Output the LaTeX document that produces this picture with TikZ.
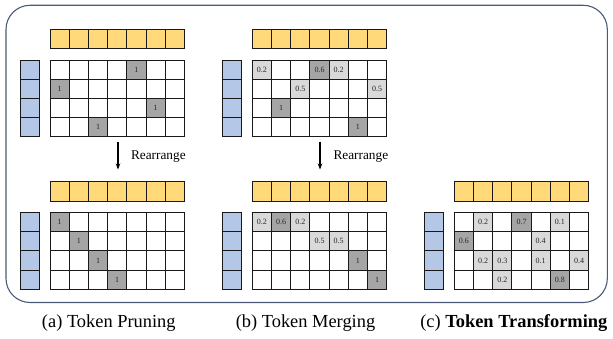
\documentclass[tikz,border=0pt]{standalone}
\usepackage{fontspec}
\setmainfont{Liberation Serif}
\usetikzlibrary{arrows.meta}
\definecolor{tokY}{HTML}{FFD97A}
\definecolor{tokB}{HTML}{B4C7E7}
\definecolor{cellD}{HTML}{A5A5A5}
\definecolor{cellL}{HTML}{D9D9D9}
\definecolor{frameC}{HTML}{4A5A78}
\tikzset{
 cellbox/.style={draw=black!90, line width=0.95pt, minimum width=19.2pt, minimum height=19.2pt, inner sep=0pt, outer sep=0pt, anchor=north west, font=\fontsize{8}{9}\selectfont, text=black!85},
 ybox/.style={cellbox, fill=tokY, minimum height=19.6pt},
 bbox/.style={cellbox, fill=tokB},
 gbox/.style={cellbox, fill=white},
 dbox/.style={cellbox, fill=cellD},
 lbox/.style={cellbox, fill=cellL},
 outerframe/.style={draw=frameC, line width=1.1pt, rounded corners=24pt},
 captext/.style={font=\fontsize{18.4}{20}\selectfont, anchor=base},
 rearr/.style={font=\fontsize{13.3}{15}\selectfont, anchor=base west},
 downarrow/.style={line width=1.2pt, -{Stealth[length=6pt,width=4.5pt]}}
}
\newcommand\tokpanel[3]{%
 \foreach \i in {0,...,6}{\node[ybox] (#1y\i) at (#2+\i*19.2, #3) {};}
 \foreach \j in {0,...,3}{
   \node[bbox] (#1b\j) at (#2-30, #3+30.7+\j*19.2) {};
   \foreach \i in {0,...,6}{\node[gbox] (#1g\j\i) at (#2+\i*19.2, #3+30.7+\j*19.2) {};}
 }
}
\newcommand\cellv[5]{\node[#4] (#1v#2#3) at (#1g#2#3.north west) {#5};}
\begin{document}
\begin{tikzpicture}[x=1pt,y=-1pt]
\useasboundingbox (0,0) rectangle (613,339);
\draw[outerframe] (6,5.3) rectangle (607.3,302.5);
% panel (a)
\tokpanel{a}{50}{29.3}
\tokpanel{A}{50}{181.7}
\cellv{a}{0}{4}{dbox}{1}
\cellv{a}{1}{0}{dbox}{1}
\cellv{a}{2}{5}{dbox}{1}
\cellv{a}{3}{2}{dbox}{1}
\cellv{A}{0}{0}{dbox}{1}
\cellv{A}{1}{1}{dbox}{1}
\cellv{A}{2}{2}{dbox}{1}
\cellv{A}{3}{3}{dbox}{1}
% panel (b)
\tokpanel{b}{252.3}{29.3}
\tokpanel{B}{252.3}{181.7}
\cellv{b}{0}{0}{lbox}{0.2}
\cellv{b}{0}{3}{dbox}{0.6}
\cellv{b}{0}{4}{lbox}{0.2}
\cellv{b}{1}{2}{lbox}{0.5}
\cellv{b}{1}{6}{lbox}{0.5}
\cellv{b}{2}{1}{dbox}{1}
\cellv{b}{3}{5}{dbox}{1}
\cellv{B}{0}{0}{lbox}{0.2}
\cellv{B}{0}{1}{dbox}{0.6}
\cellv{B}{0}{2}{lbox}{0.2}
\cellv{B}{1}{3}{lbox}{0.5}
\cellv{B}{1}{4}{lbox}{0.5}
\cellv{B}{2}{5}{dbox}{1}
\cellv{B}{3}{6}{dbox}{1}
% panel (c)
\tokpanel{c}{454.3}{181.7}
\cellv{c}{0}{1}{lbox}{0.2}
\cellv{c}{0}{3}{dbox}{0.7}
\cellv{c}{0}{5}{lbox}{0.1}
\cellv{c}{1}{0}{dbox}{0.6}
\cellv{c}{1}{4}{lbox}{0.4}
\cellv{c}{2}{1}{lbox}{0.2}
\cellv{c}{2}{2}{lbox}{0.3}
\cellv{c}{2}{4}{lbox}{0.1}
\cellv{c}{2}{6}{lbox}{0.4}
\cellv{c}{3}{2}{lbox}{0.2}
\cellv{c}{3}{5}{dbox}{0.8}
% rearrange arrows
\coordinate (ra1) at (118,141.7);
\coordinate (ra2) at (118,169.5);
\draw[downarrow] (ra1) -- (ra2);
\node[rearr] (rt1) at (127.5,159.3) {Rearrange};
\coordinate (rb1) at (320,141.7);
\coordinate (rb2) at (320,169.5);
\draw[downarrow] (rb1) -- (rb2);
\node[rearr] (rt2) at (330,159.3) {Rearrange};
% captions
\node[captext] (capa) at (108.8,327) {(a) Token Pruning};
\node[captext] (capb) at (305.5,327) {(b) Token Merging};
\node[captext] (capc) at (513.8,327) {(c) \textbf{Token Transforming}};
\end{tikzpicture}
\end{document}
